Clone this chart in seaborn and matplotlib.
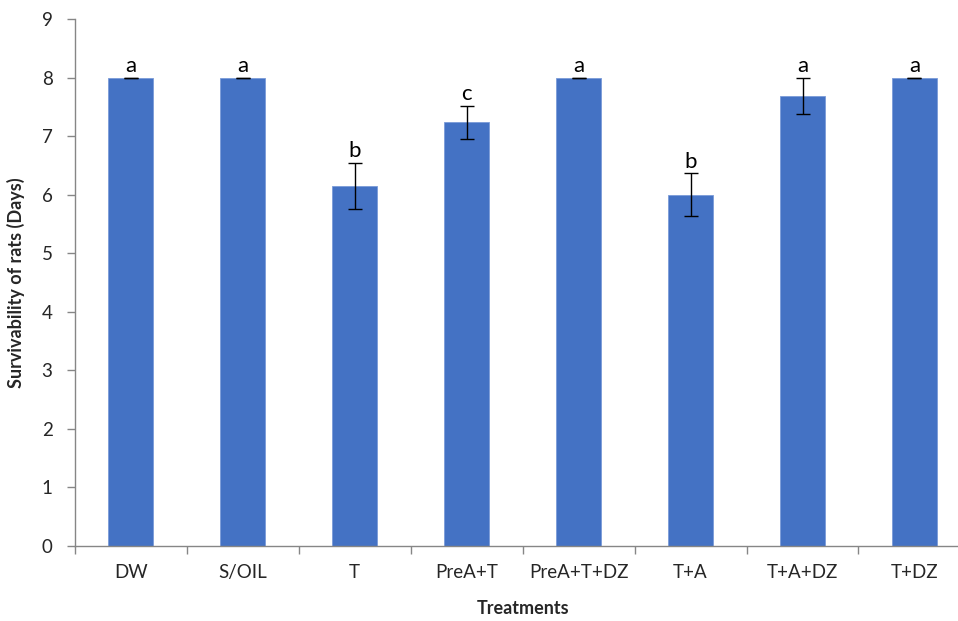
import matplotlib
matplotlib.use("Agg")
import matplotlib.pyplot as plt
import seaborn as sns
import pandas as pd
import numpy as np

treatments = ["DW", "S/OIL", "T", "PreA+T", "PreA+T+DZ", "T+A", "T+A+DZ", "T+DZ"]
survival = [8.0, 8.0, 6.15, 7.24, 8.0, 6.0, 7.69, 8.0]
errors = [0.0, 0.0, 0.40, 0.28, 0.0, 0.37, 0.31, 0.0]
letters = ["a", "a", "b", "c", "a", "b", "a", "a"]

sns.set_theme(style="white")
plt.rcParams['font.family'] = ['Lato', 'DejaVu Sans']

df = pd.DataFrame({"Treatment": treatments, "Survival": survival})

fig = plt.figure(figsize=(9.58, 6.21), dpi=100)
ax = fig.add_axes([0.078, 0.121, 0.935, 0.848])

sns.barplot(data=df, x="Treatment", y="Survival", color="#4472C4",
            saturation=1, width=0.4, errorbar=None, ax=ax,
            edgecolor="#7A9BD8", linewidth=0.6)

xs = [p.get_x() + p.get_width() / 2 for p in ax.patches]
ax.errorbar(xs, survival, yerr=errors, fmt="none", ecolor="black",
            elinewidth=1.0, capsize=5, capthick=1.0, zorder=5)

for x, v, e, l in zip(xs, survival, errors, letters):
    ax.annotate(l, (x, v + e), xytext=(0, 1), textcoords="offset points",
                ha="center", va="bottom", fontsize=16, color="black")

ax.set_ylim(0, 9)
ax.set_xlim(-0.5, 7.5)
ax.set_yticks(range(0, 10))
ax.set_xticks(range(len(treatments)))
ax.set_xticklabels(treatments)
ax.set_xticks(np.arange(-0.5, 7.5, 1.0), minor=True)
ax.tick_params(axis="x", which="major", length=0, pad=13, labelsize=13.5)
ax.tick_params(axis="x", which="minor", length=6, color="#868686", width=1, direction="out", bottom=True)
ax.tick_params(axis="y", which="major", length=6, color="#868686", width=1, direction="out", left=True, labelsize=13.5, pad=10)

for s in ["top", "right"]:
    ax.spines[s].set_visible(False)
for s in ["left", "bottom"]:
    ax.spines[s].set_color("#868686")
    ax.spines[s].set_linewidth(1)

ax.set_xlabel("Treatments", fontsize=13, fontweight="bold", labelpad=14)
ax.set_ylabel("Survivability of rats (Days)", fontsize=13, fontweight="bold", labelpad=12)

fig.savefig("out.png", dpi=100)
